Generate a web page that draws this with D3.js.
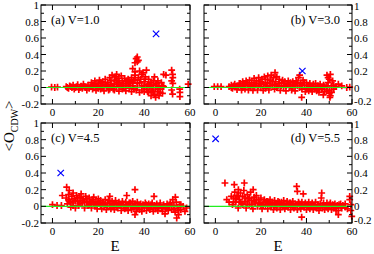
<!DOCTYPE html>
<html>
<head>
<meta charset="utf-8">
<script src="https://cdn.jsdelivr.net/npm/d3@7"></script>
<style>
  body { margin: 0; background: #fff; }
</style>
</head>
<body>
<div id="chart"></div>
<script>
// tick values
var xTicks = [0, 10, 20, 30, 40, 50, 60];
var xLabels = [0, 20, 40, 60];
var yTicks = [-0.2, -0.1, 0, 0.1, 0.2, 0.3, 0.4, 0.5, 0.6, 0.7, 0.8, 0.9, 1];
var yLabels = [-0.2, 0, 0.2, 0.4, 0.6, 0.8, 1];

var panelNames = ["(a) V=1.0", "(b) V=3.0", "(c) V=4.5", "(d) V=5.5"];

// highlighted state (blue x), [E, O]
var crossA = [[45.2, 0.65]];
var crossB = [[38.2, 0.20]];
var crossC = [[3.6, 0.40]];
var crossD = [[0.1, 0.81]];

// red + points, [E, O]
var ptsA = [
  [-0.4,0.005],[1,0],[2.2,0.005],
  [6,0.01],[7,-0.01],[7.5,0.02],[8.5,0],[9,0.03],[9.5,-0.02],[10.5,0.01],[11,0.035],[11.5,-0.025],
  [12.5,0.015],[13,-0.01],[13.5,0.04],[14.5,0],[15,-0.03],[15.5,0.03],[16.5,0.01],
  [17,0.06],[17.5,-0.02],[18,0.03],[18.5,0.08],[19,-0.035],[19.5,0.01],[20,0.05],[20.5,0.09],
  [21,-0.02],[21.5,0.03],[22,0.07],[22.5,-0.04],[23,0.1],[23.5,0.02],[24,0.06],[24.5,-0.03],
  [25,0.12],[25.5,0.04],[26,0.15],[26.5,-0.02],[27,0.09],[27.5,0.13],[28,0.01],[28,0.16],
  [28.5,0.06],[29,-0.045],[29,0.11],[29.5,0.03],[30,0.14],[30.5,-0.02],[30.5,0.08],
  [31,0.05],[31.5,0.11],[32,-0.04],[32,0.02],[32.5,0.08],[33,0.1],[33.5,-0.01],[34,0.05],
  [34.5,0.12],[34.5,-0.05],[35,0.02],
  [35,0.23],[35.5,0.09],[36,0.19],[36,0.15],[36.5,-0.03],[36.5,0.35],[37,0.37],[37.5,0.33],
  [37,0.31],[36,0.3],[37,0.05],[37.5,0.12],[38,-0.06],[38,0.2],[38.5,0.1],[39,0.02],[39,0.16],
  [39.5,0.18],[40,-0.05],[40,0.07],[40.5,0.13],[41,-0.02],[41,0.21],[41.5,0.04],[42,0.1],
  [42,-0.06],[42.5,0.02],[43,-0.1],[43,0.06],[43.5,-0.03],[44,0.03],[44.5,-0.08],[44.5,0.13],
  [45,-0.12],[45,0],[45.5,0.05],[46,-0.05],[46.5,-0.1],[46.5,0.02],[47,-0.02],[47.5,0.06],
  [48,-0.07],[48.5,0.16],[49.5,0.15],[48.5,0.01],
  [52,0.21],[52.4,0.16],[52.5,0.12],[52,0.08],[52.5,0.05],[52,-0.03],[52.4,-0.08],
  [55.5,-0.02],[55.6,-0.06],[55.6,-0.11],[59.2,0.04],
  [6.5,0],[8,0.01],[10,0],[12,0],[14,0.01],[16,-0.01],[17.5,0.02],[19,0.04],[20,-0.01],
  [21,0.06],[22,0],[23,0.04],[24,0.01],[25,-0.02],[25.5,0.08],[26,0.02],[27,0.04],[27,-0.03],
  [28,0.08],[29,0.06],[30,0.03],[31,0],[32,0.05],[33,0.03],[33.5,0.07],[35,0.06],[35.5,-0.02],
  [36,0.1],[37,0],[38,0.06],[39,-0.03],[40,0.02],[40.5,0.1],[41.5,-0.05],[42,0.04],[43,0],
  [44,-0.05],[45,0.03],[46,-0.02],[47,-0.06],[48,0.02],[46,0.08],[44,0.08]
];
var ptsB = [
  [-0.5,0.01],[1,0.01],[2.5,0.01],
  [6,0.01],[7,0.03],[7.5,-0.01],[8.5,0.04],[9,0.01],[9.5,-0.025],[10.5,0.05],[11,0.02],
  [11.5,-0.03],[12,0.07],[12.5,0.03],[13,-0.02],[13.5,0.08],[14,0.04],[14.5,-0.03],[15,0.09],
  [15.5,0.01],[16,0.06],[16.5,-0.035],[17,0.11],
  [17.5,0.03],[18,0.08],[18.5,-0.03],[19,0.12],[19.5,0.05],[20,0.01],[20.5,0.1],[21,-0.035],
  [21.5,0.13],[22,0.06],[22.5,0.02],[23,0.14],[23.5,-0.03],[24,0.09],[24.5,0.15],[25,0.03],
  [25.5,0.12],[26,-0.02],[26.2,0.18],[26.5,0.07],[27,0.13],
  [27.5,0.02],[28,0.1],[28.5,-0.035],[29,0.06],[29.5,0.09],[30,0.01],[30.5,0.07],[31,-0.04],
  [31.5,0.04],[32,0.08],[32.5,0],[33,0.06],[33.5,-0.03],[34,0.07],[34.5,0.03],[35,-0.04],
  [35.5,0.08],[36,0.02],
  [36.5,0.12],[37,0.15],[37.9,-0.12],[37.5,0.05],[38,-0.02],[38.5,0.09],[39,0.03],[39.5,-0.05],
  [40,0.06],[40.5,0],[41,-0.04],[41.5,0.05],[42,0.02],[42.5,-0.05],[43,0.04],[43.5,-0.02],
  [44,0.05],[44.5,-0.04],[45,0.02],[45.5,-0.06],[46,0.04],[46.5,-0.02],[47.4,-0.09],[47.5,0.03],
  [48,-0.05],
  [49,0.15],[49.5,0.12],[50,0.1],[50.5,0.16],[49.5,0.06],[50,-0.04],[50.5,-0.1],[50.3,-0.12],
  [51,0.02],[50,-0.07],[51.5,0.08],[52,0.03],[53,0.01],[54,0.04],[55.5,0.02],[57.7,0.0],[59,0.005],
  [7,0],[8,0.02],[10,0.01],[11,0.05],[12,0],[13,0.04],[14,0.06],[15,0.02],[16,0.03],[17,0],
  [18,0.05],[19,0.02],[20,0.07],[21,0.04],[22,-0.01],[22,0.1],[23,0.05],[24,0.02],[25,0.07],
  [26,0.04],[27,0],[28,0.05],[29,0.02],[30,0.05],[31,0.02],[32,0.04],[33,0.02],[34,0],[35,0.04],
  [36,0.06],[37,0],[38,0.03],[39,0.06],[40,-0.02],[41,0.02],[42,-0.02],[43,0.01],[44,0],
  [45,-0.02],[46,0.01],[47,0],[48,0.01],[49,-0.03],[49,0.02],[51,-0.06],[52,-0.02]
];
var ptsC = [
  [0,0.02],[2,0.01],[3.9,0.01],[4.3,0.13],[6.2,0.23],[7.3,0.19],
  [6,0.1],[6.5,0.03],[7,0.14],[7.5,0.06],[8,-0.01],[8.5,0.12],[9,0.16],[9,0.04],[9.5,0.09],
  [10,-0.02],[10.5,0.13],[11,0.06],[11.5,0.01],[12,0.11],[12.5,0.15],
  [13,0.04],[13.5,0.09],[14,-0.02],[14.5,0.12],[15,0.06],[15.5,0.01],[16,0.1],[16.5,0.04],
  [17,-0.02],[17.5,0.08],[18,0.11],[18.5,0.02],[19,0.06],[19.5,-0.03],[20,0.09],
  [20.5,0.03],[21,0.07],[21.5,-0.03],[22,0.05],[22.5,0.01],[23,0.08],[23.5,-0.04],[24,0.04],
  [24.5,0.07],[25,0.12],[25,0],[25.5,-0.03],[26,0.06],[26.5,0.02],[27,-0.04],[27.5,0.07],[28,0.03],
  [28.5,-0.02],[29,0.05],[29.5,0.01],[30,-0.05],[30.5,0.06],[31,0.02],[31.5,-0.03],[32,0.05],
  [32.4,0.13],[32.5,0],[33,-0.05],[33.5,0.04],[34,0.01],[34.5,-0.04],[35,0.06],[35.5,-0.01],
  [36,0.2],[36,-0.1],[36,0.03],[36.5,-0.06],[37,0.05],[37.5,0],[38,-0.04],[38.5,0.03],
  [39,-0.06],[39.5,0.02],[40,-0.02],
  [40.5,0.04],[41,-0.05],[41.5,0.01],[42,0.03],[42.5,-0.04],[43,0],[43.5,0.04],[44,-0.06],
  [44.3,0.12],[44.5,0.01],[45,-0.03],[45.5,0.03],[46,-0.05],[46.5,0],[47,0.04],[47.5,-0.02],
  [48,-0.06],[48.5,0.02],[49.1,-0.09],[49.5,-0.03],[50,0.03],[50.5,-0.05],[51,0],[51.5,0.04],
  [52,-0.04],[52.5,0.08],[53,0.01],[53.6,0.11],[53.5,-0.07],[54.2,-0.14],[54,0.05],[54.5,-0.02],
  [55,-0.1],[55.5,0.02],[56,-0.04],[57,0],[57.8,-0.06],[58.5,-0.02],
  [7,0.08],[8,0.05],[9,0.01],[10,0.07],[11,0.1],[12,0.03],[13,0.07],[14,0.05],[15,0.09],
  [16,0.02],[17,0.05],[18,0.04],[19,0.02],[20,0.05],[21,0.01],[22,0.03],[23,0.02],[24,0],
  [25,0.04],[26,0],[27,0.02],[28,-0.01],[29,0.02],[30,0.01],[31,0],[32,-0.02],[33,0.02],
  [34,0.04],[35,0],[36,0.01],[37,-0.03],[38,0.01],[39,0],[40,0.01],[41,0.02],[42,-0.02],
  [43,0.02],[44,-0.02],[45,0],[46,-0.02],[47,0.01],[48,-0.02],[49,0],[50,-0.02],[51,0.02],
  [52,0.01],[53,-0.03],[55,-0.05],[56,0.02]
];
var ptsD = [
  [4.2,0.28],[8.3,0.26],[12.7,0.28],[16.6,0.2],[10.1,0.2],[5,0.08],[6,0.05],[7,0.12],
  [7.5,0.02],[8,0.1],[8.5,0.17],[9,0.05],[9.5,0.13],[10,-0.02],[10.5,0.08],[11,0.16],[11.5,0.03],
  [12,0.12],[12.5,0.19],[13,0.06],[13.5,-0.02],[14,0.14],[14.5,0.09],[15,0.02],[15.5,0.17],
  [16,0.07],[16.5,-0.03],[17,0.11],[17.5,0.04],[18,0.13],[18.5,0],[19,0.08],[19.5,0.03],[20,0.1],
  [20.5,-0.03],[21,0.05],[21.5,0.08],[22,0.01],[22.5,0.06],[23,-0.03],[23.5,0.04],[24,0.08],
  [24.5,0],[25,0.05],[25.5,-0.04],[26,0.07],[26.5,0.02],[27,-0.02],[27.5,0.06],[28,0.03],
  [28.5,-0.04],[29,0.05],[29.5,0.01],[30,0.07],
  [30.5,-0.03],[31,0.03],[31.5,0.06],[32,-0.01],[32.5,0.04],[33,-0.04],[33.5,0.02],[34,0.06],
  [34.5,-0.02],[35,0.03],[35.7,0.24],[36,0.18],[36,-0.04],[36.5,0.05],[37,0.01],[37.5,-0.03],
  [37.9,-0.13],[38,0.05],[38.6,0.15],[39,-0.01],[39.5,0.04],[40,-0.04],
  [40.5,0.02],[41,0.05],[41.5,-0.03],[42,0.01],[42.5,0.04],[43,-0.04],[43.5,0],[44,0.05],
  [44.5,-0.02],[45,0.02],[45.5,-0.05],[46,0.03],[46.5,0.1],[46.7,0.16],[47,-0.02],[47.5,0.04],
  [48,-0.04],[48.5,0.01],[49,0.04],[49.5,-0.03],[50,0],[50.5,0.04],[51,-0.04],[51.5,0.02],
  [52,-0.02],[52.5,0.03],[53,-0.05],[53.5,0.01],[54,-0.1],[54,-0.05],[54.3,0.02],[55,0.03],
  [55.5,-0.02],[56,0.01],[57,0.03],[58,-0.03],[59,0.12],[59,0.08],[59.5,-0.05],[59.9,-0.12],[59.5,0.02],
  [8,0.05],[9,0.09],[10,0.12],[11,0.05],[12,0.02],[13,0.1],[14,0.04],[15,0.1],[16,0.02],
  [17,0.06],[18,0.08],[19,0.04],[20,0.01],[21,0.02],[22,0.04],[23,0.06],[24,0.02],[25,0.03],
  [26,0],[27,0.03],[28,0.05],[29,0.02],[30,0.01],[31,0],[32,0.02],[33,0.04],[34,0.01],[35,0],
  [36,0.02],[37,0.03],[38,0],[39,0.02],[40,0.01],[41,-0.01],[42,0.02],[43,0.01],[44,-0.01],
  [45,0],[46,-0.01],[47,0.01],[48,0],[49,-0.01],[50,0.02],[51,0],[52,0.01],[53,-0.02],[55,0],[57,-0.01]
];

var width = 374, height = 254;
var svg = d3.select("#chart").append("svg")
  .attr("width", width)
  .attr("height", height)
  .attr("font-family", "'Liberation Serif', 'DejaVu Serif', serif");

// frame boxes of the four panels
var panels = [
  {name: panelNames[0], pts: ptsA, cross: crossA, left: 41,  top: 5,   right: 190, bottom: 104, side: "left"},
  {name: panelNames[1], pts: ptsB, cross: crossB, left: 204, top: 5,   right: 352, bottom: 104, side: "right"},
  {name: panelNames[2], pts: ptsC, cross: crossC, left: 41,  top: 123, right: 190, bottom: 223, side: "left"},
  {name: panelNames[3], pts: ptsD, cross: crossD, left: 204, top: 123, right: 352, bottom: 223, side: "right"}
];

var fmt = function(d) { return String(+d.toFixed(1)); };
var isMajor = function(list, d) { return list.some(function(v) { return Math.abs(v - d) < 1e-9; }); };

panels.forEach(function(p) {
  var x = d3.scaleLinear().domain([-5, 60]).range([p.left, p.right]);
  var y = d3.scaleLinear().domain([-0.2, 1]).range([p.bottom, p.top]);
  var g = svg.append("g");

  g.selectAll(".plus")
    .data(p.pts)
    .enter()
    .append("path")
    .attr("class", "plus")
    .attr("d", "M-3.4,0H3.4M0,-3.4V3.4")
    .attr("transform", function(d) { return "translate(" + x(d[0]) + "," + y(d[1]) + ")"; })
    .attr("fill", "none")
    .attr("stroke", "#ff0000")
    .attr("stroke-width", 1.7);

  // zero line
  g.append("line")
    .attr("x1", x(-5)).attr("x2", x(60))
    .attr("y1", y(0)).attr("y2", y(0))
    .attr("stroke", "#22ee22")
    .attr("stroke-width", 1.2);

  g.selectAll(".cross")
    .data(p.cross)
    .enter()
    .append("path")
    .attr("class", "cross")
    .attr("d", "M-3.2,-3.2L3.2,3.2M-3.2,3.2L3.2,-3.2")
    .attr("transform", function(d) { return "translate(" + x(d[0]) + "," + y(d[1]) + ")"; })
    .attr("fill", "none")
    .attr("stroke", "#0000ff")
    .attr("stroke-width", 1.2);

  // frame
  g.append("rect")
    .attr("x", p.left).attr("y", p.top)
    .attr("width", p.right - p.left).attr("height", p.bottom - p.top)
    .attr("fill", "none").attr("stroke", "#000").attr("stroke-width", 1);

  // inward ticks on all four sides
  var tickLen = function(major) { return major ? 5 : 3; };
  xTicks.forEach(function(t) {
    var L = tickLen(isMajor(xLabels, t));
    g.append("line").attr("x1", x(t)).attr("x2", x(t))
      .attr("y1", p.bottom).attr("y2", p.bottom - L).attr("stroke", "#000");
    g.append("line").attr("x1", x(t)).attr("x2", x(t))
      .attr("y1", p.top).attr("y2", p.top + L).attr("stroke", "#000");
  });
  yTicks.forEach(function(t) {
    var L = tickLen(isMajor(yLabels, t));
    g.append("line").attr("y1", y(t)).attr("y2", y(t))
      .attr("x1", p.left).attr("x2", p.left + L).attr("stroke", "#000");
    g.append("line").attr("y1", y(t)).attr("y2", y(t))
      .attr("x1", p.right).attr("x2", p.right - L).attr("stroke", "#000");
  });

  g.selectAll(".xlab")
    .data(xLabels)
    .enter()
    .append("text")
    .attr("x", function(d) { return x(d); })
    .attr("y", p.bottom + 12)
    .attr("text-anchor", "middle")
    .attr("font-size", 11)
    .text(fmt);

  g.selectAll(".ylab")
    .data(yLabels)
    .enter()
    .append("text")
    .attr("x", p.side === "left" ? p.left - 2 : p.right + 2)
    .attr("y", function(d) {
      if (p.side === "right" && d < 0) return y(d) + 1;
      if (p.side === "right" && d === 1) return y(d) + 5;
      return y(d) + 4;
    })
    .attr("text-anchor", p.side === "left" ? "end" : "start")
    .attr("font-size", 11)
    .text(fmt);

  g.append("text")
    .attr("x", p.side === "left" ? p.left + 10 : p.right - 12)
    .attr("y", p.top + 19)
    .attr("text-anchor", p.side === "left" ? "start" : "end")
    .attr("font-size", 12.5)
    .text(p.name);
});

// axis titles
[115, 278].forEach(function(cx) {
  svg.append("text")
    .attr("x", cx).attr("y", 251)
    .attr("text-anchor", "middle")
    .attr("font-size", 15)
    .text("E");
});

var yTitle = svg.append("text")
  .attr("transform", "translate(14,126) rotate(-90)")
  .attr("text-anchor", "middle")
  .attr("font-size", 15);
yTitle.append("tspan").text("<O");
yTitle.append("tspan").attr("font-size", 10).attr("dy", 4).text("CDW");
yTitle.append("tspan").attr("dy", -4).text(">");
</script>
</body>
</html>
